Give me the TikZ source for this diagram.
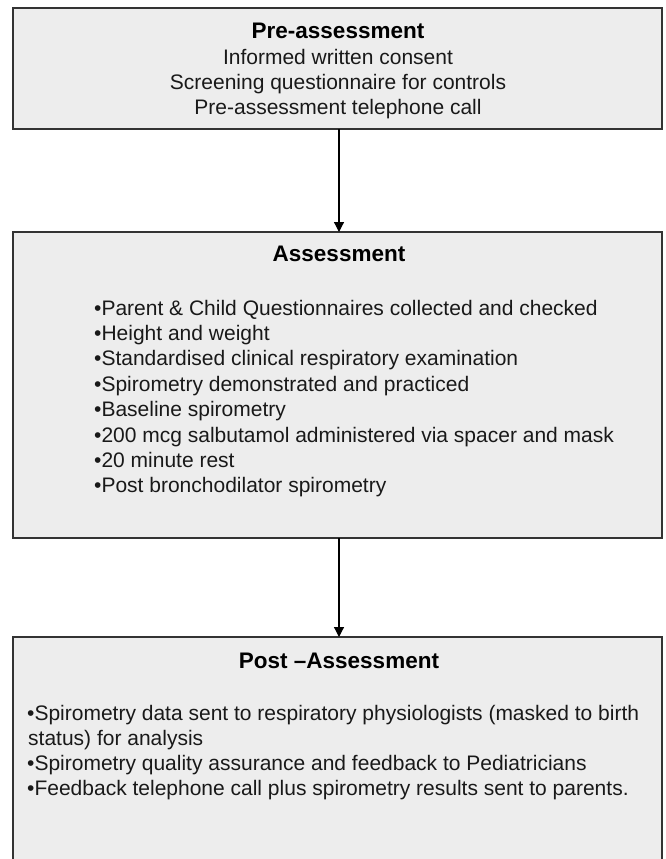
\documentclass[tikz,border=0pt]{standalone}
\usepackage{fontspec}
\setmainfont{Liberation Sans}
\usetikzlibrary{arrows.meta}
\tikzset{
  box/.style={rectangle, draw=black!80, line width=1.6pt, fill=black!7, minimum width=649pt, inner sep=0pt, outer sep=0pt},
  ttl/.style={font=\bfseries\fontsize{22.5}{27}\selectfont, text=black, inner sep=0pt, anchor=base},
  ctr/.style={font=\fontsize{21}{25}\selectfont, text=black!90, inner sep=0pt, anchor=base},
  lft/.style={font=\fontsize{21}{25}\selectfont, text=black!90, inner sep=0pt, anchor=base west},
  conn/.style={draw=black, line width=1.2pt, -{Triangle[width=10pt,length=10pt]}}
}
\begin{document}
\begin{tikzpicture}[x=1pt,y=-1pt]
\clip (0,0) rectangle (665,859);
\fill[white] (0,0) rectangle (665,859);
% boxes
\node[box, minimum height=121pt] (b1) at (337.5,68.5) {};
\node[box, minimum height=306pt] (b2) at (337.5,385) {};
\node[box, minimum height=243pt] (b3) at (337.5,758.5) {};
% connectors
\draw[conn] ([xshift=1.5pt]b1.south) -- ([xshift=1.5pt]b2.north);
\draw[conn] ([xshift=1.5pt]b2.south) -- ([xshift=1.5pt]b3.north);
% box 1 text
\node[ttl] (t1) at (338,38) {Pre-assessment};
\node[ctr] (p1) at (338,65) {Informed written consent};
\node[ctr] (p2) at (338,89.5) {Screening questionnaire for controls};
\node[ctr] (p3) at (338,114) {Pre-assessment telephone call};
% box 2 text
\node[ttl] (t2) at (339,261) {Assessment};
\node[lft] (a1) at (94,315) {•Parent \& Child Questionnaires collected and checked};
\node[lft] (a2) at (94,340.4) {•Height and weight};
\node[lft] (a3) at (94,365.8) {•Standardised clinical respiratory examination};
\node[lft] (a4) at (94,391.2) {•Spirometry demonstrated and practiced};
\node[lft] (a5) at (94,416.6) {•Baseline spirometry};
\node[lft] (a6) at (94,442) {•200 mcg salbutamol administered via spacer and mask};
\node[lft] (a7) at (94,467.4) {•20 minute rest};
\node[lft] (a8) at (94,492.8) {•Post bronchodilator spirometry};
% box 3 text
\node[ttl] (t3) at (339,668) {Post –Assessment};
\node[lft] (c1) at (27,720) {•Spirometry data sent to respiratory physiologists (masked to birth};
\node[lft] (c2) at (28,745) {status) for analysis};
\node[lft] (c3) at (27,770) {•Spirometry quality assurance and feedback to Pediatricians};
\node[lft] (c4) at (27,795) {•Feedback telephone call plus spirometry results sent to parents.};
\end{tikzpicture}
\end{document}
